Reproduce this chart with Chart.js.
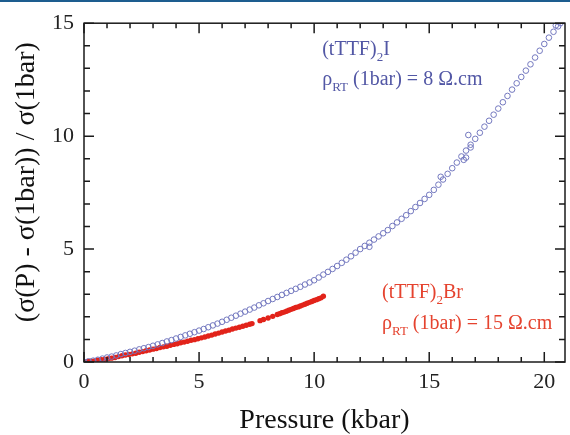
<!DOCTYPE html>
<html>
<head>
<meta charset="utf-8">
<script src="https://cdn.jsdelivr.net/npm/chart.js@4"></script>
<style>
  html, body { margin: 0; padding: 0; background: #fff; }
</style>
</head>
<body>
<canvas id="pressureChart" width="570" height="435"></canvas>
<script>
// (tTTF)2I - open blue circles
const iPressure = [
  0.0, 0.2, 0.4, 0.6, 0.8, 1.0, 1.2, 1.4, 1.6, 1.8, 2.0, 2.2, 2.4, 2.6, 2.8,
  3.0, 3.2, 3.4, 3.6, 3.8, 4.0, 4.2, 4.4, 4.6, 4.8, 5.0, 5.2, 5.4, 5.6, 5.8,
  6.0, 6.2, 6.4, 6.6, 6.8, 7.0, 7.2, 7.4, 7.6, 7.8, 8.0, 8.2, 8.4, 8.6, 8.8,
  9.0, 9.2, 9.4, 9.6, 9.8, 10.0, 10.2, 10.4, 10.6, 10.8, 11.0, 11.2, 11.4, 11.6, 11.8,
  12.0, 12.2, 12.4, 12.6, 12.8, 13.0, 13.2, 13.4, 13.6, 13.8, 14.0, 14.2, 14.4, 14.6, 14.8,
  15.0, 15.2, 15.4, 15.6, 15.8, 16.0, 16.2, 16.4, 16.6, 16.8, 17.0, 17.2, 17.4, 17.6, 17.8,
  18.0, 18.2, 18.4, 18.6, 18.8, 19.0, 19.2, 19.4, 19.6, 19.8, 20.0, 20.2, 20.4, 20.6,
  16.7, 16.8, 16.5, 16.6, 15.5, 12.4, 20.5, 20.7
];
const iSigma = [
  0.00, 0.03, 0.06, 0.10, 0.15, 0.20, 0.24, 0.29, 0.35, 0.40, 0.45, 0.50, 0.56, 0.61, 0.66,
  0.72, 0.78, 0.84, 0.91, 0.97, 1.04, 1.11, 1.18, 1.25, 1.32, 1.39, 1.46, 1.54, 1.62, 1.70,
  1.78, 1.87, 1.96, 2.05, 2.14, 2.23, 2.32, 2.41, 2.51, 2.60, 2.70, 2.79, 2.88, 2.97, 3.06,
  3.15, 3.24, 3.33, 3.43, 3.52, 3.62, 3.74, 3.87, 3.99, 4.12, 4.25, 4.39, 4.53, 4.68, 4.84,
  5.00, 5.14, 5.28, 5.42, 5.56, 5.70, 5.84, 6.02, 6.18, 6.34, 6.50, 6.68, 6.86, 7.04, 7.22,
  7.40, 7.62, 7.85, 8.08, 8.33, 8.58, 8.83, 9.10, 9.36, 9.62, 9.88, 10.15, 10.42, 10.68, 10.95,
  11.22, 11.50, 11.78, 12.06, 12.34, 12.62, 12.90, 13.18, 13.48, 13.78, 14.08, 14.36, 14.62, 14.86,
  10.05, 9.50, 8.95, 9.05, 8.20, 5.10, 14.90, 15.00
];

// (tTTF)2Br - filled red dots
const brPressure = [
  0.00, 0.15, 0.30, 0.45, 0.60, 0.75, 0.90, 1.05, 1.20, 1.35, 1.50, 1.65, 1.80, 1.95, 2.10,
  2.25, 2.40, 2.55, 2.70, 2.85, 3.00, 3.15, 3.30, 3.45, 3.60, 3.75, 3.90, 4.05, 4.20, 4.35,
  4.50, 4.65, 4.80, 4.95, 5.10, 5.25, 5.40, 5.55, 5.70, 5.85, 6.00, 6.15, 6.30, 6.45, 6.60,
  6.75, 6.90, 7.05, 7.20, 7.30, 7.65, 7.80, 8.00, 8.20, 8.40, 8.50, 8.60, 8.70, 8.80, 8.90,
  9.00, 9.10, 9.20, 9.30, 9.40, 9.50, 9.60, 9.70, 9.80, 9.90, 10.00, 10.10, 10.20, 10.30, 10.40
];
const brSigma = [
  0.00, 0.02, 0.03, 0.05, 0.08, 0.10, 0.12, 0.15, 0.17, 0.20, 0.24, 0.28, 0.31, 0.33, 0.36,
  0.39, 0.43, 0.46, 0.50, 0.53, 0.57, 0.60, 0.64, 0.67, 0.70, 0.74, 0.78, 0.81, 0.85, 0.88,
  0.92, 0.96, 0.99, 1.03, 1.07, 1.11, 1.15, 1.19, 1.24, 1.28, 1.33, 1.37, 1.41, 1.46, 1.50,
  1.54, 1.58, 1.63, 1.67, 1.70, 1.83, 1.88, 1.95, 2.02, 2.10, 2.14, 2.18, 2.21, 2.25, 2.29,
  2.33, 2.37, 2.41, 2.44, 2.48, 2.52, 2.56, 2.60, 2.64, 2.68, 2.72, 2.76, 2.80, 2.84, 2.91
];

const xTicks = [0, 5, 10, 15, 20];
const yTicks = [0, 5, 10, 15];

const iLabel = [[["(tTTF)"], ["2", true], ["I"]], [["ρ"], ["RT", true], [" (1bar) = 8 Ω.cm"]]];
const brLabel = [[["(tTTF)"], ["2", true], ["Br"]], [["ρ"], ["RT", true], [" (1bar) = 15 Ω.cm"]]];

const serif = '"Liberation Serif", "Times New Roman", serif';

function drawParts(ctx, parts, x, y) {
  let cx = x;
  for (const [text, sub] of parts) {
    ctx.font = (sub ? "13px " : "20px ") + serif;
    ctx.fillText(text, cx, sub ? y + 6 : y);
    cx += ctx.measureText(text).width;
  }
}

const framePlugin = {
  id: "frame",
  beforeDraw(chart) {
    const ctx = chart.ctx;
    ctx.save();
    ctx.fillStyle = "#fff";
    ctx.fillRect(0, 0, chart.width, chart.height);
    ctx.fillStyle = "#1d5d8f";
    ctx.fillRect(0, 0, chart.width, 2);
    ctx.restore();
  },
  afterDraw(chart) {
    const { ctx, chartArea: a } = chart;
    const x = chart.scales.x;
    const y = chart.scales.y;
    ctx.save();
    ctx.strokeStyle = "#1a1a1a";
    ctx.lineWidth = 1.5;
    ctx.strokeRect(a.left, a.top, a.right - a.left, a.bottom - a.top);

    // inward ticks on all four sides
    ctx.beginPath();
    for (let v = Math.ceil(x.min); v <= x.max; v++) {
      const px = x.getPixelForValue(v);
      const len = xTicks.includes(v) ? 10 : 5;
      ctx.moveTo(px, a.bottom);
      ctx.lineTo(px, a.bottom - len);
      ctx.moveTo(px, a.top);
      ctx.lineTo(px, a.top + len);
    }
    for (let v = Math.ceil(y.min); v <= y.max; v++) {
      const py = y.getPixelForValue(v);
      const len = yTicks.includes(v) ? 10 : 6;
      ctx.moveTo(a.left, py);
      ctx.lineTo(a.left + len, py);
      ctx.moveTo(a.right, py);
      ctx.lineTo(a.right - len, py);
    }
    ctx.stroke();

    ctx.textAlign = "left";
    ctx.textBaseline = "alphabetic";
    ctx.fillStyle = "#5257a5";
    let tx = x.getPixelForValue(10.35);
    let ty = y.getPixelForValue(13.6);
    drawParts(ctx, iLabel[0], tx, ty);
    drawParts(ctx, iLabel[1], tx, ty + 30);

    ctx.fillStyle = "#e5432f";
    tx = x.getPixelForValue(12.95);
    ty = y.getPixelForValue(2.85);
    drawParts(ctx, brLabel[0], tx, ty);
    drawParts(ctx, brLabel[1], tx, ty + 31);
    ctx.restore();
  },
};

const ctx = document.getElementById("pressureChart").getContext("2d");
const pressureChart = new Chart(ctx, {
  type: "scatter",
  data: {
    datasets: [
      {
        label: "(tTTF)2I",
        data: iPressure.map((p, i) => ({ x: p, y: iSigma[i] })),
        pointStyle: "circle",
        pointRadius: 2.8,
        borderWidth: 1,
        borderColor: "#7479c0",
        backgroundColor: "rgba(255,255,255,0)",
      },
      {
        label: "(tTTF)2Br",
        data: brPressure.map((p, i) => ({ x: p, y: brSigma[i] })),
        pointStyle: "circle",
        pointRadius: 2.7,
        borderWidth: 0,
        backgroundColor: "#e2231a",
      },
    ],
  },
  options: {
    responsive: false,
    animation: false,
    layout: { padding: { top: 21, right: 2, left: 0, bottom: 0 } },
    plugins: {
      legend: { display: false },
      tooltip: { enabled: false },
    },
    scales: {
      x: {
        type: "linear",
        min: 0,
        max: 20.9,
        afterBuildTicks: (s) => { s.ticks = xTicks.map((v) => ({ value: v })); },
        afterFit: (s) => { s.height = 73; },
        grid: { display: false, drawTicks: false },
        border: { display: false },
        ticks: { color: "#222", padding: 7, maxRotation: 0, autoSkip: false, font: { family: serif, size: 22 } },
        title: {
          display: true,
          text: "Pressure (kbar)",
          color: "#111",
          font: { family: serif, size: 28, lineHeight: 1 },
          padding: { top: 0, bottom: 0 },
        },
      },
      y: {
        type: "linear",
        min: 0,
        max: 15,
        afterBuildTicks: (s) => { s.ticks = yTicks.map((v) => ({ value: v })); },
        afterFit: (s) => { s.width = 84; },
        grid: { display: false, drawTicks: false },
        border: { display: false },
        ticks: { color: "#222", padding: 10, autoSkip: false, font: { family: serif, size: 22 } },
        title: {
          display: true,
          text: "   (σ(P) - σ(1bar)) / σ(1bar)",
          color: "#111",
          font: { family: serif, size: 28, lineHeight: 1 },
          padding: { top: 13, bottom: 0 },
        },
      },
    },
  },
  plugins: [framePlugin],
});
</script>
</body>
</html>
